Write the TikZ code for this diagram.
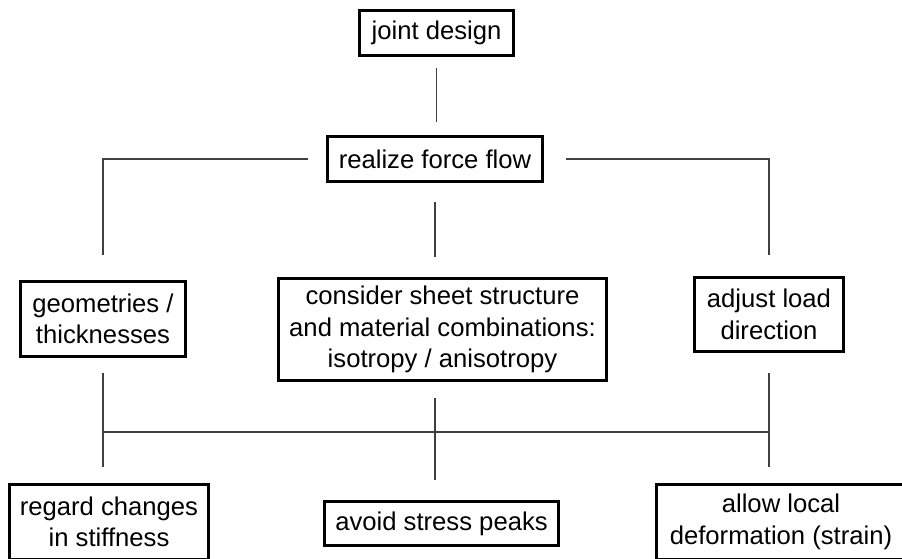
\documentclass[tikz,border=0pt]{standalone}
\usepackage{fontspec}
\setmainfont{Liberation Sans}
\usepackage{tikz}
\usetikzlibrary{positioning,calc}
\tikzstyle{box} = [draw=black, line width=1.7pt, fill=white, align=center, inner sep=2pt, font=\fontsize{14.6}{18}\selectfont]
\tikzstyle{link} = [draw=black!75, line width=0.6pt]

\begin{document}
\begin{tikzpicture}[x=0.02cm, y=-0.02cm]
\clip (0,0) rectangle (902,558);
\fill[white] (0,0) rectangle (902,558);
\node[box, minimum width=3.08cm, minimum height=0.9cm] (jd) at (436.5,33) {joint design};
\node[box, minimum width=4.3cm, minimum height=0.9cm] (rf) at (435,159) {realize force flow};
\node[box, minimum width=3.3cm, minimum height=1.5cm] (geo) at (103,319) {geometries /\\thicknesses};
\node[box, minimum width=6.56cm, minimum height=2.04cm] (mid) at (442.5,329.5) {consider sheet structure\\and material combinations:\\isotropy / anisotropy};
\node[box, minimum width=2.98cm, minimum height=1.48cm] (adj) at (769,314.5) {adjust load\\direction};
\node[box, minimum width=3.98cm, minimum height=1.5cm] (reg) at (109,522) {regard changes\\in stiffness};
\node[box, minimum width=4.68cm, minimum height=0.88cm] (avd) at (441.5,523.5) {avoid stress peaks};
\node[box, minimum width=4.98cm, minimum height=1.5cm] (alw) at (781,522) {allow local\\deformation (strain)};
\coordinate (bus) at (0,432);
% upper tree
\draw[link, shorten <=0.22cm, shorten >=0.26cm] (jd.south) -- (jd.south |- rf.north);
\draw[link, shorten <=0.36cm, shorten >=0.5cm] (rf.west) -| (geo.north);
\draw[link, shorten <=0.44cm, shorten >=0.42cm] (rf.east) -| (adj.north);
\draw[link, shorten <=0.38cm, shorten >=0.4cm] (rf.south) -- (rf.south |- mid.north);
% lower tree
\draw[link] (geo.south |- bus) -- (adj.south |- bus);
\draw[link, shorten <=0.3cm, shorten >=0.32cm] (geo.south) -- (geo.south |- reg.north);
\draw[link, shorten <=0.32cm, shorten >=0.4cm] (rf.south |- mid.south) -- (rf.south |- avd.north);
\draw[link, shorten <=0.4cm, shorten >=0.32cm] (adj.south) -- (adj.south |- alw.north);
\end{tikzpicture}
\end{document}
